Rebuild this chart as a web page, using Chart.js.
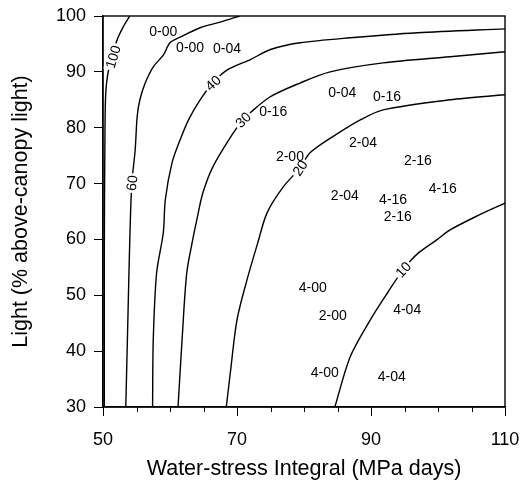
<!DOCTYPE html>
<html>
<head>
<meta charset="utf-8">
<script src="https://cdn.jsdelivr.net/npm/chart.js@4/dist/chart.umd.min.js"></script>
<style>
  html, body { margin: 0; padding: 0; background: #fff; }
  #wrap { width: 520px; height: 485px; }
</style>
</head>
<body>
<div id="wrap"><canvas id="contourChart"></canvas></div>
<script>
// contour lines: x = water-stress integral (MPa days), y = light (% above-canopy)
const levels = ['100', '60', '40', '30', '20', '10'];

const c100x = [54.0, 53.0, 52.1, 51.3, 50.7, 50.4, 50.3, 50.2, 50.2];
const c100y = [100, 98, 95.7, 92.5, 89.5, 86, 80, 60, 30];

const c60x = [70.4, 67.5, 64.5, 61.5, 60.0, 59.0, 57.5, 56.3, 55.5, 55.1, 54.8, 54.3, 54.0, 53.7, 53.4];
const c60y = [100, 98.9, 97.9, 96.2, 95.2, 93, 90.9, 88, 85, 82, 76, 70, 60, 45, 30];

const c40x = [110, 96.9, 86.9, 79.4, 75.0, 72.0, 68.5, 66.4, 64.5, 62.8, 61.5, 60.3, 59.3, 59.0, 58.0, 57.5, 57.4];
const c40y = [97.7, 97.0, 96.1, 95.2, 94, 92.2, 90.3, 88, 85, 81.5, 77.8, 73.7, 67.1, 61.2, 54, 42, 30];

const c30x = [110, 101.8, 91.8, 83.9, 79.4, 74.9, 71.9, 70.9, 69.4, 66.4, 64.9, 64.0, 63.4, 62.5, 61.8, 61.2];
const c30y = [93.6, 92.7, 91.6, 90, 88, 85.5, 82.6, 81.4, 79, 73, 68.3, 63.5, 60, 54, 42, 30];

const c20x = [110, 101.8, 91.8, 88.4, 84.3, 80.9, 79.4, 76.9, 74.5, 73.1, 71.5, 70.0, 69.0, 68.4];
const c20y = [85.9, 85, 83.2, 81.4, 78.4, 75.5, 72.8, 69.4, 64.8, 59.4, 52.8, 45.6, 36.1, 30];

const c10x = [84.6, 86.9, 89.9, 92.5, 94.8, 97.0, 99.9, 101.8, 106, 110];
const c10y = [30, 39, 45.6, 50.5, 54.6, 57.5, 60, 61.7, 64.3, 66.5];

// where each contour value is written on its line
const levelLabelX = [51.5, 54.3, 66.4, 70.9, 79.4, 94.8];
const levelLabelY = [92.7, 70.1, 88.0, 81.4, 72.8, 54.6];

// treatment codes written inside the plot
const noteText = ['0-00', '0-00', '0-04', '0-04', '0-16', '0-16', '2-00', '2-04', '2-16', '2-04',
                  '4-16', '4-16', '2-16', '4-00', '2-00', '4-04', '4-00', '4-04'];
const noteX = [59.0, 63.0, 68.5, 85.7, 92.4, 75.4, 77.9, 88.8, 97.0, 86.1,
               93.3, 100.7, 94.0, 81.3, 84.3, 95.4, 83.1, 93.1];
const noteY = [97.1, 94.3, 94.1, 86.2, 85.5, 82.8, 74.8, 77.3, 74.0, 67.8,
               67.1, 69.0, 64.0, 51.3, 46.2, 47.3, 36.0, 35.4];

const xTicks = [50, 70, 90, 110];
const yTicks = [30, 40, 50, 60, 70, 80, 90, 100];

const FONT = '"Liberation Sans", Arial, Helvetica, sans-serif';

const lineSets = [[c100x, c100y], [c60x, c60y], [c40x, c40y], [c30x, c30y], [c20x, c20y], [c10x, c10y]];
const datasets = lineSets.map(([xs, ys], i) => ({
    label: levels[i],
    data: xs.map((x, k) => ({ x, y: ys[k] })),
    showLine: true,
    borderColor: '#000',
    borderWidth: 1.4,
    pointRadius: 0,
    tension: 0.3,
    fill: false,
}));

// frame, tick labels, minor ticks, contour values and treatment codes
const decorations = {
    id: 'decorations',
    afterDatasetsDraw(chart) {
        const { ctx, chartArea: a, scales: { x, y } } = chart;
        ctx.save();
        ctx.strokeStyle = '#000';
        ctx.lineWidth = 1.4;
        ctx.strokeRect(a.left, a.top, a.right - a.left, a.bottom - a.top);

        // short ticks between labelled ones
        ctx.lineWidth = 1;
        for (let v = 55; v < 110; v += 5) {
            if (xTicks.includes(v)) continue;
            const px = Math.round(x.getPixelForValue(v)) + 0.5;
            ctx.beginPath();
            ctx.moveTo(px, a.bottom);
            ctx.lineTo(px, a.bottom + 5);
            ctx.stroke();
        }

        ctx.fillStyle = '#000';
        ctx.textBaseline = 'middle';

        // tick labels drawn here so they don't push the plot area inward
        ctx.font = '18px ' + FONT;
        ctx.textAlign = 'center';
        xTicks.forEach(v => ctx.fillText(String(v), x.getPixelForValue(v), a.bottom + 33));
        ctx.textAlign = 'right';
        yTicks.forEach(v => ctx.fillText(String(v), a.left - 17, y.getPixelForValue(v)));

        ctx.textAlign = 'center';
        ctx.font = '14px ' + FONT;

        // contour values sit on their line, rotated along it, with a gap behind
        levels.forEach((txt, i) => {
            const px = x.getPixelForValue(levelLabelX[i]);
            const py = y.getPixelForValue(levelLabelY[i]);
            const pts = chart.getDatasetMeta(i).data;
            let best = null, bestD = Infinity;
            for (let k = 0; k < pts.length - 1; k++) {
                const mx = (pts[k].x + pts[k + 1].x) / 2, my = (pts[k].y + pts[k + 1].y) / 2;
                const d = (mx - px) ** 2 + (my - py) ** 2;
                if (d < bestD) { bestD = d; best = [pts[k], pts[k + 1]]; }
            }
            let dx = best[1].x - best[0].x, dy = best[1].y - best[0].y;
            if (dx < 0 || (dx === 0 && dy > 0)) { dx = -dx; dy = -dy; }
            const ang = Math.atan2(dy, dx);
            const w = ctx.measureText(txt).width;
            ctx.save();
            ctx.translate(px, py);
            ctx.rotate(ang);
            ctx.fillStyle = '#fff';
            ctx.fillRect(-w / 2 - 2, -6, w + 4, 12);
            ctx.fillStyle = '#000';
            ctx.fillText(txt, 0, 1);
            ctx.restore();
        });

        noteText.forEach((txt, i) => {
            ctx.fillText(txt, x.getPixelForValue(noteX[i]), y.getPixelForValue(noteY[i]));
        });
        ctx.restore();
    },
};

new Chart(document.getElementById('contourChart'), {
    type: 'scatter',
    data: { datasets },
    plugins: [decorations],
    options: {
        responsive: true,
        maintainAspectRatio: false,
        animation: false,
        layout: { padding: { top: 16, right: 15, bottom: 0, left: 0 } },
        plugins: { legend: { display: false }, tooltip: { enabled: false } },
        scales: {
            x: {
                type: 'linear',
                min: 50,
                max: 110,
                afterBuildTicks: (s) => { s.ticks = xTicks.map(v => ({ value: v })); },
                afterFit: (s) => { s.height = 78; },
                ticks: { display: false },
                grid: { drawOnChartArea: false, drawTicks: true, tickLength: 9, color: '#000', tickWidth: 1 },
                border: { display: true, color: '#000', width: 1.4 },
                title: { display: true, text: 'Water-stress Integral (MPa days)', color: '#000',
                         font: { family: FONT, size: 21.5 }, padding: { top: 0, bottom: 3 } },
            },
            y: {
                type: 'linear',
                min: 30,
                max: 100,
                afterBuildTicks: (s) => { s.ticks = yTicks.map(v => ({ value: v })); },
                afterFit: (s) => { s.width = 103; },
                ticks: { display: false },
                grid: { drawOnChartArea: false, drawTicks: true, tickLength: 9, color: '#000', tickWidth: 1 },
                border: { display: true, color: '#000', width: 1.4 },
                title: { display: true, text: 'Light (% above-canopy light)', color: '#000',
                         font: { family: FONT, size: 21.5 }, padding: { top: 8, bottom: 0 } },
            },
        },
    },
});
</script>
</body>
</html>
